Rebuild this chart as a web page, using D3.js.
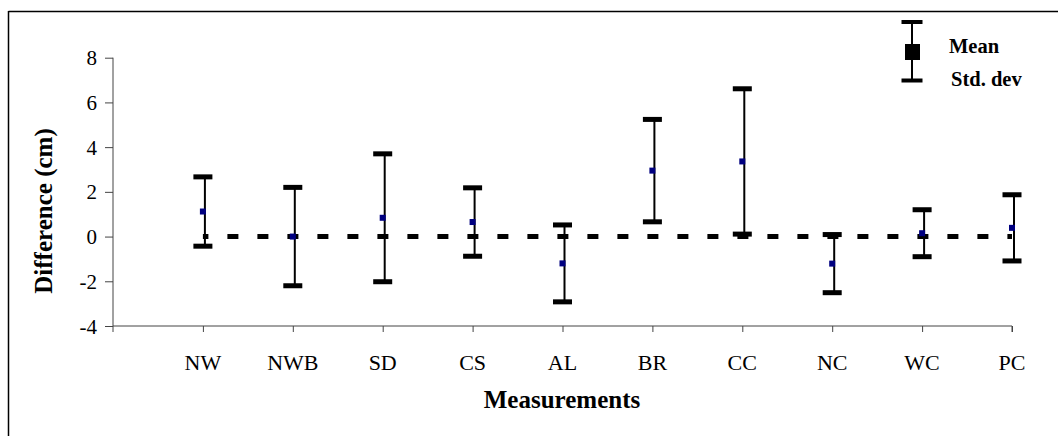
<!DOCTYPE html>
<html>
<head>
<meta charset="utf-8">
<script src="https://cdn.jsdelivr.net/npm/d3@7"></script>
<style>
  html, body { margin: 0; padding: 0; background: #fff; }
  svg { display: block; }
  text { font-family: "Liberation Serif", "Times New Roman", serif; fill: #000; }
</style>
</head>
<body>
<svg id="chart" width="1058" height="436"></svg>
<script>
const categories = ["NW", "NWB", "SD", "CS", "AL", "BR", "CC", "NC", "WC", "PC"];
const means = [1.12, 0, 0.84, 0.65, -1.2, 2.95, 3.36, -1.21, 0.15, 0.39];
const stdDevs = [1.55, 2.2, 2.86, 1.53, 1.72, 2.29, 3.25, 1.3, 1.05, 1.48];
const yTicks = [-4, -2, 0, 2, 4, 6, 8];

const svg = d3.select("#chart");
const W = 1058, H = 436;

// frame (only top and left edges show in the picture)
svg.append("line").attr("x1", 8.5).attr("x2", W).attr("y1", 11.5).attr("y2", 11.5)
  .attr("stroke", "#000").attr("stroke-width", 1.5);
svg.append("line").attr("x1", 8.5).attr("x2", 8.5).attr("y1", 11).attr("y2", H)
  .attr("stroke", "#000").attr("stroke-width", 1.5);

const x = d3.scaleLinear().domain([0, categories.length]).range([113, 1012]);
const y = d3.scaleLinear().domain([-4, 8]).range([326, 57.7]);

const data = categories.map((c, i) => ({
  name: c, idx: i + 1, mean: means[i], sd: stdDevs[i]
}));

// y axis
const yAxis = svg.append("g")
  .attr("transform", `translate(${x(0)},0)`)
  .call(d3.axisLeft(y).tickValues(yTicks).tickSize(8).tickFormat(""));
yAxis.select(".domain").attr("stroke", "#444").attr("d", `M0,${y(8)}V${y(-4) + 6}`);
yAxis.selectAll(".tick line").attr("stroke", "#444");

svg.append("g").selectAll("text")
  .data(yTicks)
  .join("text")
  .attr("x", 97)
  .attr("y", d => y(d) + 7.5)
  .attr("text-anchor", "end")
  .style("font-size", "21px")
  .text(d => d < 0 ? "-" + Math.abs(d) : String(d));

// x axis
const xAxis = svg.append("g")
  .attr("transform", `translate(0,${y(-4)})`)
  .call(d3.axisBottom(x).tickValues(d3.range(1, categories.length + 1)).tickSize(6).tickFormat(""));
xAxis.select(".domain").attr("stroke", "#444").attr("d", `M${x(0)},0H${x(categories.length)}V6`);
xAxis.selectAll(".tick line").attr("stroke", "#444");

svg.append("g").selectAll("text")
  .data(data)
  .join("text")
  .attr("x", d => x(d.idx))
  .attr("y", 370)
  .attr("text-anchor", "middle")
  .style("font-size", "22px")
  .text(d => d.name);

// zero reference line
svg.append("path")
  .datum(data)
  .attr("d", d3.line().x(d => x(d.idx)).y(() => y(0)))
  .attr("fill", "none")
  .attr("stroke", "#000")
  .attr("stroke-width", 5)
  .attr("stroke-dasharray", "11 19")
  .attr("stroke-dashoffset", 5.5);

// error bars
const bars = svg.append("g").selectAll("g")
  .data(data)
  .join("g");

bars.append("line")
  .attr("x1", d => x(d.idx) + 2)
  .attr("x2", d => x(d.idx) + 2)
  .attr("y1", d => y(d.mean + d.sd))
  .attr("y2", d => y(d.mean - d.sd))
  .attr("stroke", "#000")
  .attr("stroke-width", 2);

bars.selectAll("rect.cap")
  .data(d => [{ idx: d.idx, v: d.mean + d.sd }, { idx: d.idx, v: d.mean - d.sd }])
  .join("rect")
  .attr("class", "cap")
  .attr("x", d => x(d.idx) - 9.5)
  .attr("y", d => y(d.v) - 2.5)
  .attr("width", 19)
  .attr("height", 5)
  .attr("fill", "#000");

bars.append("rect")
  .attr("x", d => x(d.idx) - 3)
  .attr("y", d => y(d.mean) - 3)
  .attr("width", 6)
  .attr("height", 6)
  .attr("fill", "#000080");

// legend
const lg = svg.append("g");
lg.append("line").attr("x1", 912).attr("x2", 912).attr("y1", 22).attr("y2", 80.5)
  .attr("stroke", "#000").attr("stroke-width", 2);
lg.append("rect").attr("x", 901.5).attr("y", 20).attr("width", 21).attr("height", 4).attr("fill", "#000");
lg.append("rect").attr("x", 901.5).attr("y", 78.5).attr("width", 21).attr("height", 4).attr("fill", "#000");
lg.append("rect").attr("x", 905).attr("y", 44).attr("width", 15).attr("height", 16).attr("fill", "#000");
lg.append("text").attr("x", 949).attr("y", 53).style("font-size", "20.5px").attr("font-weight", "bold").text("Mean");
lg.append("text").attr("x", 951).attr("y", 86).style("font-size", "20.5px").attr("font-weight", "bold").text("Std. dev");

// axis titles
svg.append("text")
  .attr("x", 562)
  .attr("y", 408)
  .attr("text-anchor", "middle")
  .style("font-size", "25px")
  .attr("font-weight", "bold")
  .text("Measurements");

svg.append("text")
  .attr("transform", "translate(52,211) rotate(-90)")
  .attr("text-anchor", "middle")
  .style("font-size", "25px")
  .attr("font-weight", "bold")
  .text("Difference (cm)");
</script>
</body>
</html>
